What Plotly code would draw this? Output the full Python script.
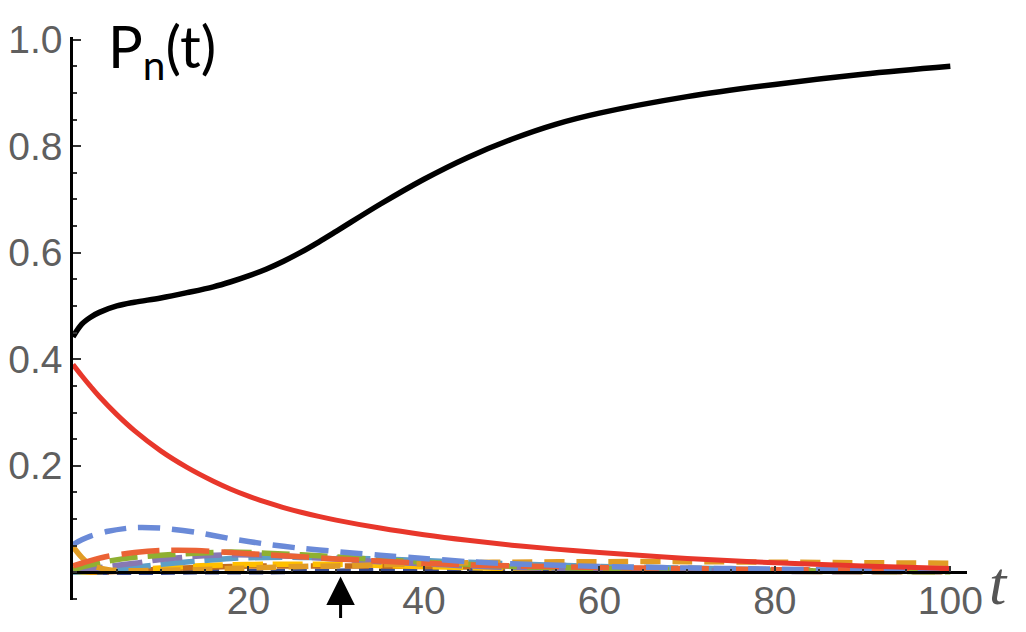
import plotly.graph_objects as go

# ---- data ----
t_main = [0, 1, 2, 3, 5, 7, 10, 13, 16, 18, 20, 22, 24, 26, 28, 30, 35, 40, 45, 50, 55, 60, 70, 80, 90, 100]
p_black = [0.442, 0.466, 0.479, 0.488, 0.500, 0.507, 0.515, 0.525, 0.536, 0.5455, 0.5565, 0.569,
           0.584, 0.601, 0.620, 0.640, 0.691, 0.738, 0.779, 0.813, 0.841, 0.862, 0.893, 0.916,
           0.935, 0.950]
p_red = [0.390, 0.369, 0.349, 0.330, 0.296, 0.266, 0.228, 0.197, 0.171, 0.156, 0.143, 0.1316,
         0.1216, 0.1128, 0.105, 0.098, 0.083, 0.0705, 0.060, 0.051, 0.0435, 0.037, 0.026, 0.018,
         0.012, 0.007]

t_small = [0, 1, 2, 4, 7, 10, 14, 18, 22, 26, 30, 35, 40, 45, 50, 60, 70, 80, 90, 100]
p_blue = [0.052, 0.061, 0.068, 0.077, 0.084, 0.083, 0.075, 0.063, 0.053, 0.045, 0.039, 0.032,
          0.026, 0.020, 0.016, 0.011, 0.008, 0.006, 0.004, 0.003]
p_redorange = [0.012, 0.017, 0.022, 0.030, 0.037, 0.041, 0.041, 0.037, 0.033, 0.029, 0.025, 0.021,
               0.017, 0.014, 0.012, 0.009, 0.007, 0.005, 0.004, 0.003]
p_green = [0.005, 0.010, 0.014, 0.021, 0.028, 0.032, 0.036, 0.038, 0.036, 0.033, 0.029, 0.024,
           0.019, 0.015, 0.011, 0.007, 0.004, 0.003, 0.002, 0.001]
p_purple = [0.002, 0.004, 0.006, 0.011, 0.017, 0.024, 0.030, 0.033, 0.032, 0.029, 0.025, 0.020,
            0.016, 0.012, 0.009, 0.006, 0.004, 0.002, 0.001, 0.001]
p_lightblue = [0.000, 0.001, 0.002, 0.004, 0.009, 0.015, 0.021, 0.026, 0.028, 0.028, 0.027, 0.025,
               0.022, 0.019, 0.016, 0.011, 0.008, 0.005, 0.003, 0.002]
p_yellow = [0.000, 0.000, 0.001, 0.002, 0.005, 0.008, 0.012, 0.014, 0.015, 0.015, 0.015, 0.013,
            0.011, 0.009, 0.007, 0.005, 0.003, 0.002, 0.001, 0.001]
p_brown = [0.000, 0.000, 0.000, 0.001, 0.003, 0.006, 0.009, 0.011, 0.012, 0.012, 0.012, 0.012,
           0.011, 0.010, 0.009, 0.007, 0.005, 0.004, 0.003, 0.002]
p_orange = [0.048, 0.028, 0.014, 0.005, 0.003, 0.004, 0.005, 0.007, 0.009, 0.011, 0.012, 0.014,
            0.016, 0.018, 0.019, 0.020, 0.020, 0.019, 0.018, 0.017]
p_navy = [0.000, 0.000, 0.000, 0.000, 0.000, 0.000, 0.001, 0.001, 0.001, 0.002, 0.002, 0.003,
          0.003, 0.004, 0.004, 0.004, 0.004, 0.003, 0.003, 0.003]

small_series = [
    ("navy", p_navy, "#3B4B8C", "14px,8px"),
    ("brown", p_brown, "#C56E1A", "24px,10px"),
    ("yellow", p_yellow, "#FFBF00", "30px,10px"),
    ("lightblue", p_lightblue, "#5D9EC7", "34px,10px"),
    ("purple", p_purple, "#8778B3", "30px,10px"),
    ("green", p_green, "#8FB032", "28px,10px"),
    ("orange", p_orange, "#E19C24", "20px,12px"),
    ("redorange", p_redorange, "#EB6235", "38px,12px"),
    ("blue", p_blue, "#6A8AD8", "22px,12px"),
]

x_max = 101.9
y_min, y_max = -0.052, 1.005

fig = go.Figure()
for name, vals, col, dash in small_series:
    fig.add_trace(go.Scatter(x=t_small, y=vals, mode="lines", name=name,
                             line=dict(color=col, width=5.5, dash=dash, shape="spline", smoothing=0.8)))
fig.add_trace(go.Scatter(x=t_main, y=p_red, mode="lines", name="red",
                         line=dict(color="#E8372B", width=5, shape="spline", smoothing=1.0)))
fig.add_trace(go.Scatter(x=t_main, y=p_black, mode="lines", name="black",
                         line=dict(color="#000000", width=5.5, shape="spline", smoothing=1.0)))

tick_font = dict(family="Liberation Sans, Arial, sans-serif", size=39, color="#5f5f5f")

# the page body adds an 8px offset, so margins are reduced by 8 on the left/top
fig.update_layout(
    width=1026, height=632,
    margin=dict(l=65, r=67, t=29, b=40),
    paper_bgcolor="white", plot_bgcolor="white",
    showlegend=False,
    xaxis=dict(
        range=[0, x_max], showgrid=False, zeroline=False, automargin=False,
        showline=True, linecolor="black", linewidth=2.5,
        anchor="free", position=(0 - y_min) / (y_max - y_min),
        tickmode="array", tickvals=[20, 40, 60, 80, 100],
        ticks="inside", ticklen=6, tickwidth=2, tickcolor="#333333",
        minor=dict(tickmode="linear", tick0=0, dtick=5, ticks="inside", ticklen=3,
                   tickwidth=2, tickcolor="#333333", showgrid=False),
        tickfont=tick_font, ticklabelstandoff=-7,
    ),
    yaxis=dict(
        range=[y_min, y_max], showgrid=False, zeroline=False, automargin=False,
        showline=True, linecolor="black", linewidth=2.5,
        tickmode="array", tickvals=[0.2, 0.4, 0.6, 0.8, 1.0],
        ticktext=["0.2", "0.4", "0.6", "0.8", "1.0"],
        ticks="inside", ticklen=8, tickwidth=2, tickcolor="#333333",
        minor=dict(tickmode="linear", tick0=0, dtick=0.05, ticks="inside", ticklen=4,
                   tickwidth=2, tickcolor="#333333", showgrid=False),
        tickfont=tick_font, ticklabelstandoff=0,
    ),
)

fig.add_annotation(text="P<sub>n</sub>(t)", xref="paper", yref="paper",
                   x=0.037, y=1.05, xanchor="left", yanchor="top", showarrow=False,
                   font=dict(family="Lato, Carlito, sans-serif", size=58, color="black"))
fig.add_annotation(text="<i>t</i>", xref="paper", yref="paper",
                   x=1.022, y=0.03, xanchor="left", yanchor="middle", showarrow=False,
                   font=dict(family="Liberation Serif, Times New Roman, serif", size=62, color="#555555"))
fig.add_annotation(text="", xref="x", yref="y", x=30.5, y=-0.008,
                   ax=0, ay=43, showarrow=True, arrowhead=2, arrowsize=1.9,
                   arrowwidth=3, arrowcolor="black")

fig.write_html("out.html")
